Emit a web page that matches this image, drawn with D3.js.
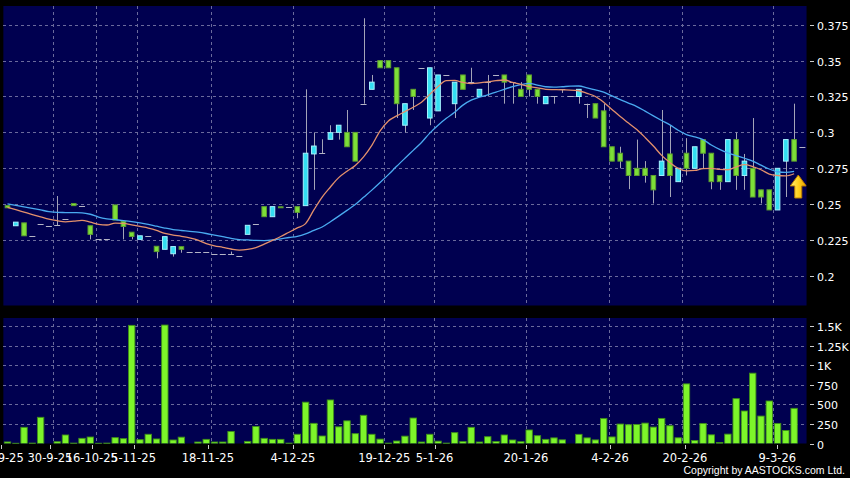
<!DOCTYPE html>
<html><head><meta charset="utf-8">
<script src="https://cdn.jsdelivr.net/npm/d3@7"></script>
<style>html,body{margin:0;padding:0;background:#000;}svg{display:block;}</style>
</head><body>
<svg id="chart" width="850" height="478"></svg>
<script>
// ---- data (one entry per trading session, oldest first) ----
const open  = [.249,.235,.237,.228,.236,.235,.2355,.240,.2505,.2485,.235,.226,.2255,.2495,.238,.2305,.2255,.2276,.2207,.2186,.2155,.2204,.2169,.2165,.2165,.2153,.2153,.2153,.2137,.229,.236,.2483,.2413,.2482,.2483,.2483,.249,.285,.2855,.2952,.300,.300,.300,.320,.330,.350,.350,.345,.305,.330,.345,.310,.315,.340,.320,.340,.335,.325,.335,.340,.340,.335,.330,.340,.330,.320,.325,.330,.325,.325,.320,.320,.315,.290,.2855,.280,.275,.275,.270,.270,.285,.2657,.2855,.275,.295,.2855,.270,.2657,.295,.270,.275,.260,.260,.246,.280,.295,.290];
const high  = [.249,.2375,.237,.228,.236,.235,.2557,.240,.2505,.2485,.235,.226,.2255,.2495,.238,.2305,.228,.2276,.2207,.2274,.2205,.2204,.2169,.2165,.2165,.2153,.2153,.217,.2137,.2353,.236,.2483,.2483,.2482,.2483,.2483,.330,.300,.2952,.305,.305,.3156,.300,.3795,.340,.350,.350,.345,.320,.330,.345,.345,.340,.340,.335,.340,.345,.330,.340,.340,.340,.335,.335,.340,.330,.325,.325,.330,.325,.330,.320,.320,.320,.290,.290,.280,.295,.280,.270,.3156,.305,.275,.296,.290,.295,.2855,.270,.295,.300,.285,.310,.260,.260,.275,.295,.320,.290];
const low   = [.2475,.235,.228,.228,.236,.235,.2355,.240,.249,.2485,.2255,.226,.2255,.239,.2255,.2255,.2255,.2276,.2123,.2186,.2135,.2162,.2169,.2165,.2165,.2153,.2153,.2153,.2137,.229,.236,.2413,.2413,.2475,.2483,.2402,.249,.260,.2855,.2952,.295,.290,.280,.320,.330,.345,.345,.310,.300,.3156,.345,.305,.315,.340,.310,.330,.335,.325,.325,.340,.320,.320,.325,.325,.320,.320,.320,.3275,.325,.320,.310,.310,.290,.280,.275,.2605,.270,.265,.2505,.270,.255,.2657,.270,.275,.275,.2604,.260,.2657,.260,.260,.255,.2505,.246,.246,.255,.280,.290];
const close = [.2475,.2375,.228,.228,.236,.235,.2355,.240,.249,.2485,.229,.226,.2255,.239,.2345,.2275,.228,.2276,.217,.2274,.2205,.2186,.2169,.2165,.2165,.2153,.2153,.2153,.2137,.2353,.236,.2413,.2483,.2475,.2483,.2443,.2855,.2905,.2855,.2998,.305,.290,.280,.320,.335,.345,.345,.320,.320,.325,.345,.345,.340,.340,.335,.330,.335,.330,.335,.340,.335,.335,.325,.330,.325,.325,.325,.330,.325,.330,.320,.310,.290,.280,.280,.270,.270,.270,.260,.280,.270,.275,.275,.290,.2855,.2657,.2657,.295,.270,.280,.255,.255,.246,.275,.295,.280,.290];
const volume = [20,3,207,5,335,0,23,109,5,66,83,3,5,75,62,1512,49,118,58,1516,45,81,0,19,53,19,19,154,0,27,218,66,53,53,5,118,529,258,96,557,213,290,126,361,118,56,5,32,94,326,19,118,30,5,139,24,207,19,87,25,109,45,23,173,100,53,72,47,0,117,72,46,321,84,249,240,244,261,210,321,227,73,763,39,257,111,13,120,574,416,900,351,544,257,167,450,0];
const maShort = [.2478,.2462,.2445,.2428,.2412,.2396,.2385,.2377,.2382,.2388,.2375,.2360,.2355,.2368,.2366,.2356,.2345,.2334,.2318,.2296,.2285,.2276,.2265,.2250,.2225,.2210,.2200,.2188,.2180,.2185,.2198,.2222,.2248,.2275,.2305,.2335,.2365,.2460,.2550,.2620,.2685,.2730,.2770,.2830,.2910,.3010,.3080,.3115,.3145,.3175,.3210,.3265,.3320,.3360,.3362,.3348,.3340,.3345,.3352,.3360,.3365,.3348,.3335,.3318,.3310,.3300,.3298,.3296,.3295,.3290,.3272,.3250,.3210,.3160,.3110,.3065,.3020,.2965,.2905,.2840,.2790,.2750,.2732,.2735,.2748,.2750,.2742,.2740,.2760,.2775,.2762,.2740,.2710,.2700,.2697,.2712,null];
const maLong = [.2503,.2492,.2482,.2471,.2460,.2449,.2443,.2442,.2441,.2440,.2430,.2410,.2398,.2392,.2386,.2379,.2370,.2360,.2347,.2334,.2323,.2317,.2311,.2305,.2296,.2285,.2274,.2262,.2254,.2251,.2248,.2247,.2251,.2259,.2268,.2276,.2293,.2318,.2341,.2378,.2417,.2457,.2498,.2548,.2598,.2651,.2706,.2764,.2820,.2875,.2930,.2995,.3050,.3098,.3140,.3190,.3225,.3245,.3262,.3280,.3300,.3318,.3333,.3342,.3330,.3318,.3315,.3318,.3322,.3323,.3310,.3296,.3280,.3254,.3228,.3204,.3180,.3148,.3115,.3083,.3052,.3015,.2985,.2968,.2950,.2912,.2882,.2858,.2838,.2820,.2800,.2772,.2745,.2726,.2722,.2728,null];
const priceTicks = [0.2,0.225,0.25,0.275,0.3,0.325,0.35,0.375];
const priceTickLabels = ["0.2","0.225","0.25","0.275","0.3","0.325","0.35","0.375"];
const volTicks = [0,250,500,750,1000,1250,1500];
const volTickLabels = ["0","250","500","750","1K","1.25K","1.5K"];
const dateLabels = ["23-9-25","30-9-25","16-10-25","5-11-25","18-11-25","4-12-25","19-12-25","5-1-26","20-1-26","4-2-26","20-2-26","9-3-26"];
const dateTickSession = [-0.75,5.13,10.17,15.22,24.2,34.48,45.5,51.57,62.62,72.77,81.82,92.97];
const gridSession = [5.5,10.7,15.6,24.6,34.5,45.5,51.5,62.6,72.6,81.5,92.5];

// ---- chart ----
const svg = d3.select("#chart");
const n = close.length;
const x = d3.scaleLinear().domain([0, n - 1]).range([7.5, 802.4]);
const step = x(1) - x(0);
const left = x(-0.5), right = x(n - 0.5);
const yP = d3.scaleLinear().domain([0.2, 0.375]).range([276, 24.7]);
const yV = d3.scaleLinear().domain([0, 1500]).range([443.5, 326.3]);
const mainTop = 6, mainBot = 305.5, volTop = 318, volBot = 443.5;

svg.append("rect").attr("width", 850).attr("height", 478).attr("fill", "#000");
svg.append("rect").attr("x", left).attr("y", mainTop).attr("width", right - left).attr("height", mainBot - mainTop).attr("fill", "#000050");
svg.append("rect").attr("x", left).attr("y", volTop).attr("width", right - left).attr("height", volBot - volTop).attr("fill", "#000050");

const gridCol = "#6a6a9c";
const grid = svg.append("g").attr("stroke", gridCol).attr("stroke-width", 1).attr("stroke-dasharray", "3,3").attr("shape-rendering", "crispEdges");
priceTicks.forEach(v => grid.append("line").attr("x1", left).attr("x2", right).attr("y1", Math.round(yP(v)) + 0.5).attr("y2", Math.round(yP(v)) + 0.5));
volTicks.filter(v => v > 0).forEach(v => grid.append("line").attr("x1", left).attr("x2", right).attr("y1", Math.round(yV(v)) + 0.5).attr("y2", Math.round(yV(v)) + 0.5));
gridSession.forEach(s => {
  const gx = Math.round(x(s)) + 0.5;
  grid.append("line").attr("x1", gx).attr("x2", gx).attr("y1", mainTop).attr("y2", mainBot);
  grid.append("line").attr("x1", gx).attr("x2", gx).attr("y1", volTop).attr("y2", volBot);
});

const clipM = svg.append("clipPath").attr("id", "cm").append("rect").attr("x", left).attr("y", mainTop).attr("width", right - left).attr("height", mainBot - mainTop);
const main = svg.append("g").attr("clip-path", "url(#cm)");
const idx = d3.range(n);

// wicks
main.selectAll("line.w").data(idx.filter(i => high[i] > low[i])).join("line")
  .attr("x1", i => Math.round(x(i)) + 0.5).attr("x2", i => Math.round(x(i)) + 0.5)
  .attr("y1", i => yP(high[i])).attr("y2", i => yP(low[i]))
  .attr("stroke", "#a4a4b8").attr("stroke-width", 1);

// flat (open == close)
main.selectAll("line.f").data(idx.filter(i => open[i] === close[i])).join("line")
  .attr("x1", i => x(i) - 3).attr("x2", i => x(i) + 3)
  .attr("y1", i => Math.round(yP(close[i])) + 0.5).attr("y2", i => Math.round(yP(close[i])) + 0.5)
  .attr("stroke", "#b4b4c6").attr("stroke-width", 1.2);

// bodies
const bw = 4.6;
main.selectAll("rect.b").data(idx.filter(i => open[i] !== close[i])).join("rect")
  .attr("x", i => x(i) - bw / 2)
  .attr("y", i => yP(Math.max(open[i], close[i])))
  .attr("width", bw)
  .attr("height", i => Math.max(1, Math.abs(yP(open[i]) - yP(close[i]))))
  .attr("fill", i => close[i] > open[i] ? "#33def2" : "#7ddf38")
  .attr("stroke", i => close[i] > open[i] ? "#a6f2ff" : "#5e9e30")
  .attr("stroke-width", 1);

// moving averages
const line = d3.line().defined(d => d[1] != null).x(d => x(d[0])).y(d => yP(d[1])).curve(d3.curveMonotoneX);
main.append("path").attr("d", line(maLong.map((v, i) => [i, v]))).attr("fill", "none").attr("stroke", "#4aaaf0").attr("stroke-width", 1.3);
main.append("path").attr("d", line(maShort.map((v, i) => [i, v]))).attr("fill", "none").attr("stroke", "#e3906c").attr("stroke-width", 1.3);

// arrow marker near the last session
const defs = svg.append("defs");
const gr = defs.append("linearGradient").attr("id", "ag").attr("x1", 0).attr("x2", 1).attr("y1", 0).attr("y2", 0);
gr.append("stop").attr("offset", "0").attr("stop-color", "#fff27a");
gr.append("stop").attr("offset", "0.5").attr("stop-color", "#ffd21e");
gr.append("stop").attr("offset", "1").attr("stop-color", "#e8a200");
const ax = x(n - 1.5), aTop = yP(0.2703), aMid = yP(0.2627), aBot = yP(0.2543);
main.append("path")
  .attr("d", `M${ax},${aTop} L${ax + 8},${aMid} L${ax + 3.5},${aMid} L${ax + 3.5},${aBot} L${ax - 3.5},${aBot} L${ax - 3.5},${aMid} L${ax - 8},${aMid} Z`)
  .attr("fill", "url(#ag)").attr("stroke", "#b97c00").attr("stroke-width", 1);

// volume bars
svg.append("clipPath").attr("id", "cv").append("rect").attr("x", left).attr("y", volTop).attr("width", right - left).attr("height", volBot - volTop);
svg.append("g").attr("clip-path", "url(#cv)").selectAll("rect").data(idx.filter(i => volume[i] > 0)).join("rect")
  .attr("x", i => x(i) - 3.2).attr("width", 6.4)
  .attr("y", i => yV(volume[i])).attr("height", i => Math.max(0.8, yV(0) - yV(volume[i])))
  .attr("fill", "#7df52a").attr("stroke", "#3f8f1a").attr("stroke-width", 0.9);

// right axes
const font = "DejaVu Sans";
const axG = svg.append("g").attr("font-family", font).attr("font-size", 11).attr("fill", "#fff");
priceTicks.forEach((v, k) => {
  const yy = Math.round(yP(v)) + 0.5;
  axG.append("line").attr("x1", 810).attr("x2", 814).attr("y1", yy).attr("y2", yy).attr("stroke", "#ccc");
  axG.append("text").attr("x", 817).attr("y", yy + 4).text(priceTickLabels[k]);
});
volTicks.forEach((v, k) => {
  const yy = Math.round(yV(v)) + 0.5;
  axG.append("line").attr("x1", 810).attr("x2", 814).attr("y1", yy).attr("y2", yy).attr("stroke", "#ccc");
  axG.append("text").attr("x", 817).attr("y", yy + 4).text(volTickLabels[k]);
});

// bottom date axis
dateTickSession.forEach((s, k) => {
  const tx = Math.round(x(s)) + 0.5;
  axG.append("line").attr("x1", tx).attr("x2", tx).attr("y1", 445).attr("y2", 449).attr("stroke", "#ccc");
  axG.append("text").attr("x", x(s)).attr("y", 462).attr("text-anchor", "middle").attr("font-size", 11.5).text(dateLabels[k]);
});

svg.append("text").attr("x", 845).attr("y", 474).attr("text-anchor", "end")
  .attr("font-family", "Liberation Sans").attr("font-size", 10.5).attr("fill", "#fff")
  .text("Copyright by AASTOCKS.com Ltd.");
</script>
</body></html>
